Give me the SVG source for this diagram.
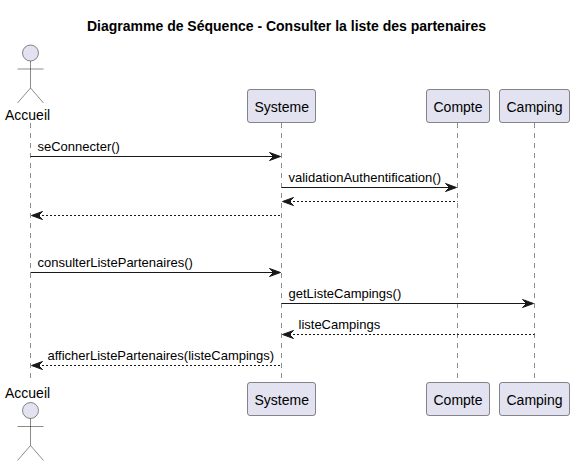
<svg xmlns="http://www.w3.org/2000/svg" width="574" height="466" viewBox="0 0 574 466">
<style>
text{font-family:"Liberation Sans",Arial,sans-serif;fill:#000}
.title{font-size:14px;font-weight:bold}
.name{font-size:14px}
.msg{font-size:13px}
.box{fill:#E2E2F0;stroke:#181818;stroke-width:.5}
.actor{fill:none;stroke:#181818;stroke-width:.5}
.head{fill:#E2E2F0;stroke:#181818;stroke-width:.5}
.life{stroke:#181818;stroke-width:.5;stroke-dasharray:5,5;fill:none}
.solid{stroke:#181818;stroke-width:1;fill:none}
.dash{stroke:#181818;stroke-width:1;stroke-dasharray:2,2;fill:none}
.tip{fill:#181818;stroke:#181818;stroke-width:1}
</style>
<defs>
<g id="actorShape"><circle class="head" cx="30.5" cy="0" r="8"/><path class="actor" d="M30.5 8V35M17.5 16H43.5M30.5 35L17.5 50M30.5 35L43.5 50"/></g>
<path id="tipR" class="tip" d="M0 0L-11 -4L-7 0L-11 4Z"/>
<path id="tipL" class="tip" d="M0 0L11 -4L7 0L11 4Z"/>
</defs>
<text class="title" x="87" y="30.5">Diagramme de Séquence - Consulter la liste des partenaires</text>
<g id="lifelines">
<path class="life" d="M30.5 123V378"/><path class="life" d="M281.5 123V378"/><path class="life" d="M457.5 123V378"/><path class="life" d="M534.5 123V378"/>
</g>
<g id="connectors">
<path class="solid" d="M30.5 156.5H277"/><use href="#tipR" x="280.5" y="156.5"/>
<path class="solid" d="M281.5 187.5H453"/><use href="#tipR" x="456.5" y="187.5"/>
<path class="dash" d="M285 201.5H457.5"/><use href="#tipL" x="282.5" y="201.5"/>
<path class="dash" d="M34 215.5H281.5"/><use href="#tipL" x="31.5" y="215.5"/>
<path class="solid" d="M30.5 272.5H277"/><use href="#tipR" x="280.5" y="272.5"/>
<path class="solid" d="M281.5 303.5H530"/><use href="#tipR" x="533.5" y="303.5"/>
<path class="dash" d="M285 334.5H534.5"/><use href="#tipL" x="282.5" y="334.5"/>
<path class="dash" d="M34 365.5H281.5"/><use href="#tipL" x="31.5" y="365.5"/>
</g>
<g id="labels">
<text class="msg" x="37.5" y="151">seConnecter()</text>
<text class="msg" x="288.5" y="182">validationAuthentification()</text>
<text class="msg" x="37.5" y="267">consulterListePartenaires()</text>
<text class="msg" x="288.5" y="298">getListeCampings()</text>
<text class="msg" x="298.5" y="329">listeCampings</text>
<text class="msg" x="47.5" y="360">afficherListePartenaires(listeCampings)</text>
</g>
<g id="actor-accueil-top"><use href="#actorShape" y="53"/><text class="name" x="5" y="120">Accueil</text></g>
<g id="actor-accueil-bottom"><use href="#actorShape" y="410.5"/><text class="name" x="5" y="398">Accueil</text></g>
<g id="systeme-top"><rect class="box" x="247.5" y="89.5" width="68" height="33" rx="2.5"/><text class="name" x="254.5" y="112">Systeme</text></g>
<g id="compte-top"><rect class="box" x="426.5" y="89.5" width="63" height="33" rx="2.5"/><text class="name" x="433.5" y="112">Compte</text></g>
<g id="camping-top"><rect class="box" x="499.5" y="89.5" width="70" height="33" rx="2.5"/><text class="name" x="506.5" y="112">Camping</text></g>
<g id="systeme-bottom"><rect class="box" x="247.5" y="382.5" width="68" height="33" rx="2.5"/><text class="name" x="254.5" y="405">Systeme</text></g>
<g id="compte-bottom"><rect class="box" x="426.5" y="382.5" width="63" height="33" rx="2.5"/><text class="name" x="433.5" y="405">Compte</text></g>
<g id="camping-bottom"><rect class="box" x="499.5" y="382.5" width="70" height="33" rx="2.5"/><text class="name" x="506.5" y="405">Camping</text></g>
</svg>
